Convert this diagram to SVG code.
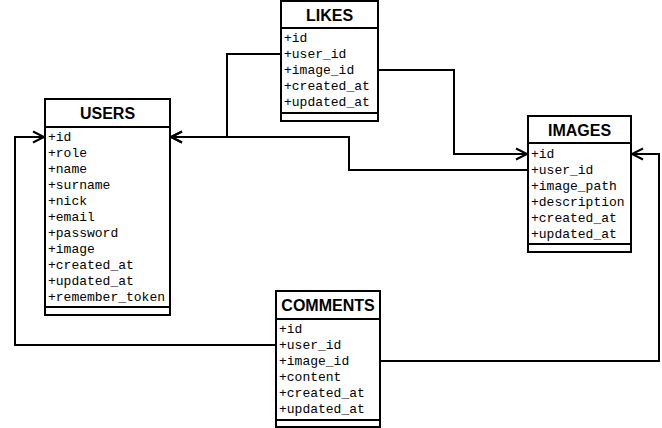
<svg xmlns="http://www.w3.org/2000/svg" width="662" height="428" viewBox="0 0 662 428">
<style>
.box{fill:#fff;stroke:#000;stroke-width:2}
.ln{fill:none;stroke:#000;stroke-width:2}
.title{font-family:"Liberation Sans",Arial,sans-serif;font-weight:bold;font-size:16px;text-anchor:middle;fill:#000}
.attr{font-family:"Liberation Mono","Courier New",monospace;font-size:13px;fill:#000}
.con{fill:none;stroke:#000;stroke-width:2}
</style>
<defs>
<marker id="arr" markerUnits="userSpaceOnUse" markerWidth="14" markerHeight="14" refX="12" refY="6" orient="auto" overflow="visible">
<path d="M1,0.5 L12,6 L1,11.5" fill="none" stroke="#000" stroke-width="2"/>
</marker>
</defs>
<rect width="662" height="428" fill="#fff"/>
<g id="connectors">
<path class="con" d="M281,54 H227 V137 H171" marker-end="url(#arr)"/>
<path class="con" d="M528,170 H349 V137 H171" marker-end="url(#arr)"/>
<path class="con" d="M378,70 H454 V154 H527" marker-end="url(#arr)"/>
<path class="con" d="M380,361 H659 V154 H632" marker-end="url(#arr)"/>
<path class="con" d="M276,345 H15 V137 H44" marker-end="url(#arr)"/>
</g>
<g id="users">
<rect class="box" x="45" y="99" width="125" height="216"/>
<line class="ln" x1="45" y1="127" x2="170" y2="127"/>
<line class="ln" x1="45" y1="307" x2="170" y2="307"/>
<text class="title" x="107.5" y="119">USERS</text>
<text class="attr" x="48" y="141">+id</text>
<text class="attr" x="48" y="157">+role</text>
<text class="attr" x="48" y="173">+name</text>
<text class="attr" x="48" y="189">+surname</text>
<text class="attr" x="48" y="205">+nick</text>
<text class="attr" x="48" y="221">+email</text>
<text class="attr" x="48" y="237">+password</text>
<text class="attr" x="48" y="253">+image</text>
<text class="attr" x="48" y="269">+created_at</text>
<text class="attr" x="48" y="285">+updated_at</text>
<text class="attr" x="48" y="301">+remember_token</text>
</g>
<g id="likes">
<rect class="box" x="281" y="1" width="97" height="120"/>
<line class="ln" x1="281" y1="28" x2="378" y2="28"/>
<line class="ln" x1="281" y1="113" x2="378" y2="113"/>
<text class="title" x="329.5" y="21">LIKES</text>
<text class="attr" x="284" y="42">+id</text>
<text class="attr" x="284" y="58">+user_id</text>
<text class="attr" x="284" y="74">+image_id</text>
<text class="attr" x="284" y="90">+created_at</text>
<text class="attr" x="284" y="106">+updated_at</text>
</g>
<g id="images">
<rect class="box" x="528" y="116" width="103" height="136"/>
<line class="ln" x1="528" y1="143" x2="631" y2="143"/>
<line class="ln" x1="528" y1="244" x2="631" y2="244"/>
<text class="title" x="579.5" y="136">IMAGES</text>
<text class="attr" x="531" y="158">+id</text>
<text class="attr" x="531" y="174">+user_id</text>
<text class="attr" x="531" y="190">+image_path</text>
<text class="attr" x="531" y="206">+description</text>
<text class="attr" x="531" y="222">+created_at</text>
<text class="attr" x="531" y="238">+updated_at</text>
</g>
<g id="comments">
<rect class="box" x="276" y="291" width="104" height="136"/>
<line class="ln" x1="276" y1="319" x2="380" y2="319"/>
<line class="ln" x1="276" y1="420" x2="380" y2="420"/>
<text class="title" x="328" y="311">COMMENTS</text>
<text class="attr" x="279" y="333">+id</text>
<text class="attr" x="279" y="349">+user_id</text>
<text class="attr" x="279" y="365">+image_id</text>
<text class="attr" x="279" y="381">+content</text>
<text class="attr" x="279" y="397">+created_at</text>
<text class="attr" x="279" y="413">+updated_at</text>
</g>
</svg>
